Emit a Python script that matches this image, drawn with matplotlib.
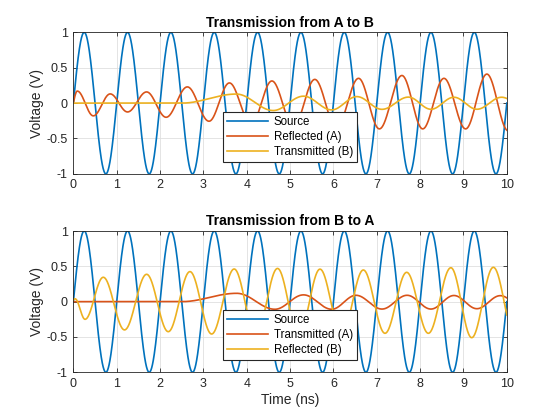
import numpy as np
import matplotlib
matplotlib.use("Agg")
import matplotlib.pyplot as plt

plt.rcParams['font.family'] = ['Liberation Sans', 'DejaVu Sans']
plt.rcParams['axes.unicode_minus'] = False

# ---- Data: extrema (time in ns, voltage in V) ----
# Source (both panels)
src_t = [-0.25, 0.25, 0.75, 1.25, 1.75, 2.25, 2.75, 3.25, 3.75, 4.25, 4.75,
         5.25, 5.75, 6.25, 6.75, 7.25, 7.75, 8.25, 8.75, 9.25, 9.75, 10.25]
src_v = [-1, 1, -1, 1, -1, 1, -1, 1, -1, 1, -1,
         1, -1, 1, -1, 1, -1, 1, -1, 1, -1, 1]

# Panel 1: Reflected (A)
refA_t = [-0.09, 0.09, 0.46, 0.85, 1.25, 1.69, 2.14, 2.63, 3.13, 3.60, 4.10,
          4.58, 5.08, 5.57, 6.07, 6.58, 7.06, 7.58, 8.06, 8.55, 9.05, 9.54, 10.03]
refA_v = [-0.17, 0.17, -0.18, 0.13, -0.125, 0.158, -0.20, 0.229, -0.256, 0.285, -0.30,
          0.313, -0.33, 0.335, -0.35, 0.35, -0.364, 0.39, -0.364, 0.35, -0.364, 0.41, -0.39]

# Panel 1: Transmitted (B)
trB_t = [0.0, 2.5, 3.76, 4.61, 5.31, 5.96, 6.54, 7.12, 7.73, 8.25, 8.78, 9.31, 9.88, 10.45]
trB_v = [0.0, 0.0, 0.128, -0.105, 0.098, -0.096, 0.092, -0.088, 0.085, -0.087, 0.083, -0.087, 0.083, -0.087]

# Panel 2: Transmitted (A)
trA_t = [0.0, 2.5, 3.77, 4.65, 5.31, 5.96, 6.52, 7.12, 7.70, 8.25, 8.78, 9.31, 9.85, 10.40]
trA_v = [0.0, 0.0, 0.118, -0.108, 0.096, -0.108, 0.09, -0.105, 0.09, -0.105, 0.087, -0.10, 0.085, -0.10]

# Panel 2: Reflected (B)
refB_t = [-0.05, 0.04, 0.27, 0.69, 1.18, 1.69, 2.19, 2.69, 3.19, 3.71, 4.21,
          4.71, 5.20, 5.69, 6.19, 6.69, 7.19, 7.69, 8.19, 8.71, 9.19, 9.69, 10.19]
refB_v = [0.0, 0.04, -0.25, 0.345, -0.40, 0.387, -0.425, 0.425, -0.458, 0.462, -0.47,
          0.47, -0.47, 0.46, -0.46, 0.448, -0.448, 0.415, -0.448, 0.48, -0.51, 0.486, -0.50]

x_ticks = [0, 1, 2, 3, 4, 5, 6, 7, 8, 9, 10]
y_ticks = [-1, -0.5, 0, 0.5, 1]
y_tick_labels = ['-1', '-0.5', '0', '0.5', '1']

titles = ['Transmission from A to B', 'Transmission from B to A']
labels_top = ['Source', 'Reflected (A)', 'Transmitted (B)']
labels_bot = ['Source', 'Transmitted (A)', 'Reflected (B)']

C_BLUE = '#0072BD'
C_ORANGE = '#D95319'
C_YELLOW = '#EDB120'


def wave(tq, te, ve):
    """Smooth half-cosine connection between consecutive extrema."""
    te = np.asarray(te, float)
    ve = np.asarray(ve, float)
    idx = np.clip(np.searchsorted(te, tq) - 1, 0, len(te) - 2)
    t0, t1 = te[idx], te[idx + 1]
    v0, v1 = ve[idx], ve[idx + 1]
    s = np.clip((tq - t0) / (t1 - t0), 0, 1)
    return v0 + (v1 - v0) * (1 - np.cos(np.pi * s)) / 2


t = np.linspace(0, 10, 3001)

fig = plt.figure(figsize=(5.6, 4.2), dpi=100)
ax1 = fig.add_axes([0.131, 0.586, 0.774, 0.337])
ax2 = fig.add_axes([0.131, 0.1136, 0.774, 0.3364])

panels = [
    (ax1, [(src_t, src_v, C_BLUE), (refA_t, refA_v, C_ORANGE), (trB_t, trB_v, C_YELLOW)], labels_top, titles[0]),
    (ax2, [(src_t, src_v, C_BLUE), (trA_t, trA_v, C_ORANGE), (refB_t, refB_v, C_YELLOW)], labels_bot, titles[1]),
]

for ax, series, labels, title in panels:
    for (te, ve, c), lab in zip(series, labels):
        ax.plot(t, wave(t, te, ve), color=c, lw=1.2, label=lab)
    ax.set_xlim(0, 10)
    ax.set_ylim(-1, 1)
    ax.set_xticks(x_ticks)
    ax.set_xticklabels([str(v) for v in x_ticks])
    ax.set_yticks(y_ticks)
    ax.set_yticklabels(y_tick_labels)
    ax.grid(True, color='#dfdfdf', lw=0.6)
    ax.set_axisbelow(True)
    ax.tick_params(direction='in', length=3, width=0.6, top=True, right=True,
                   labelsize=9, colors='#262626', pad=4)
    for sp in ax.spines.values():
        sp.set_linewidth(0.6)
        sp.set_color('#262626')
    ax.set_ylabel('Voltage (V)', fontsize=10, color='#262626', labelpad=2)
    ax.set_title(title, fontsize=10, fontweight='bold', pad=4)
    leg = ax.legend(loc='lower center', bbox_to_anchor=(0.5, 0.085), borderaxespad=0,
                    fancybox=False, framealpha=1, edgecolor='#262626', fontsize=8.3,
                    handlelength=3.5, handletextpad=0.5, borderpad=0.35, labelspacing=0.25)
    leg.get_frame().set_linewidth(0.8)

ax2.set_xlabel('Time (ns)', fontsize=10, color='#262626', labelpad=2)

fig.savefig('out.png', dpi=100)
